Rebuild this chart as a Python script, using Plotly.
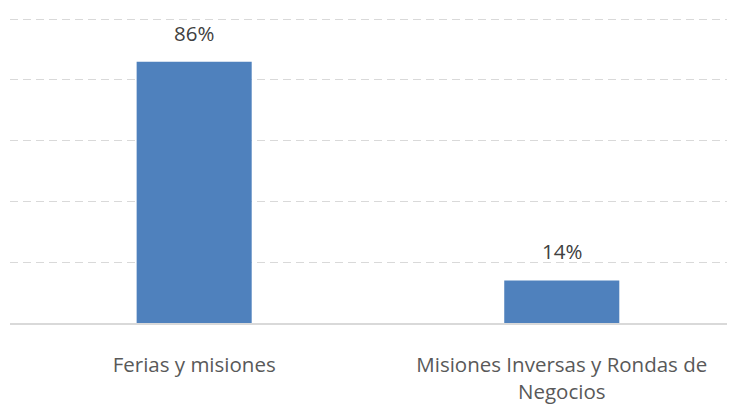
import plotly.graph_objects as go

categories = ["Ferias y misiones", "Misiones Inversas y Rondas de<br>Negocios"]
values = [86, 14]
labels = ["86%", "14%"]
y_ticks = [0, 20, 40, 60, 80, 100]

FONT = "Open Sans"

fig = go.Figure()
fig.add_trace(go.Bar(
    x=[0, 1], y=values, width=0.313,
    marker=dict(color="#4f81bd", line=dict(width=0)),
    hoverinfo="skip",
))
for i, (v, t) in enumerate(zip(values, labels)):
    fig.add_annotation(x=i, y=v, text=t, showarrow=False, yanchor="middle",
                       yshift=29, font=dict(family=FONT, size=20.5, color="#404040"))

# page renders with ~8px body offset; margins compensate
fig.update_layout(
    width=735, height=404,
    margin=dict(l=2, r=0, t=10, b=88.7),
    paper_bgcolor="white", plot_bgcolor="white",
    showlegend=False,
    xaxis=dict(range=[-0.501, 1.493], tickvals=[0, 1], ticktext=categories,
               showgrid=False, showline=True, linecolor="#d9d9d9", linewidth=1.5,
               ticks="", ticklabelstandoff=23,
               tickfont=dict(family=FONT, size=20.5, color="#595959"), zeroline=False),
    yaxis=dict(range=[0, 100.4], tickvals=y_ticks, showticklabels=False,
               showgrid=True, gridcolor="#d9d9d9", griddash="8px,5px", gridwidth=1.2,
               zeroline=False, showline=False),
)
fig.write_html("out.html")
